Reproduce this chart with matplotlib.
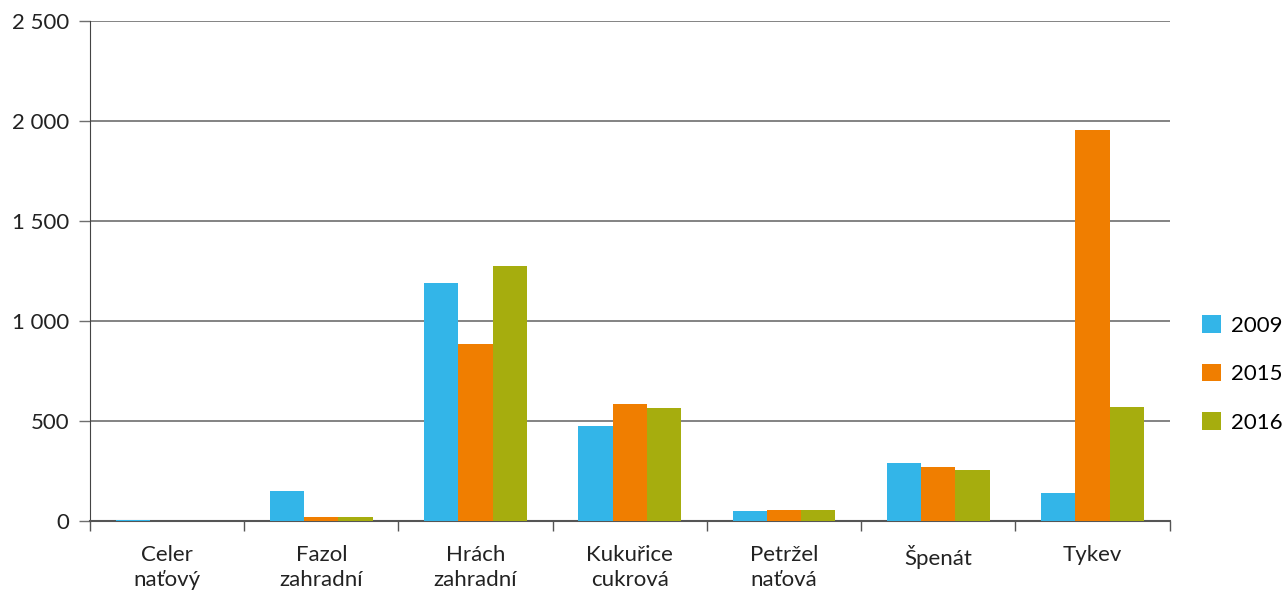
import numpy as np
import matplotlib.pyplot as plt
from matplotlib.ticker import FuncFormatter

# Data
categories = ["Celer\nnaťový", "Fazol\nzahradní", "Hrách\nzahradní", "Kukuřice\ncukrová",
              "Petržel\nnaťová", "Špenát", "Tykev"]
years = ["2009", "2015", "2016"]
v2009 = [5, 150, 1188, 473, 50, 292, 140]
v2015 = [0, 22, 887, 585, 55, 270, 1953]
v2016 = [0, 22, 1275, 567, 55, 254, 568]
colors = ["#33B5E8", "#F07E00", "#A6AD0E"]

plt.rcParams['font.family'] = ['Lato', 'DejaVu Sans']

fig = plt.figure(figsize=(12.84, 5.93), dpi=100)
ax = fig.add_axes([0.070, 0.1214, 0.841, 0.8432])

x = np.arange(len(categories))
w = 0.222
for i, (vals, lab) in enumerate(zip([v2009, v2015, v2016], years)):
    ax.bar(x + (i - 1) * w, vals, width=w, color=colors[i], label=lab,
           linewidth=0, zorder=3)

ax.set_xlim(-0.5, len(categories) - 0.5)
ax.set_ylim(0, 2500)
ax.set_yticks(np.arange(0, 2501, 500))
ax.yaxis.set_major_formatter(FuncFormatter(lambda v, p: f"{int(v):,}".replace(",", " ")))
ax.grid(axis='y', color='#6e6e6e', linewidth=1.2, zorder=0)
ax.set_axisbelow(True)

# category labels centered, ticks at category boundaries
ax.set_xticks(x)
ax.set_xticklabels(categories, fontsize=16, color='#222222', linespacing=1.35)
ax.tick_params(axis='x', which='major', length=0, pad=17)
ax.set_xticks(np.arange(-0.5, len(categories)), minor=True)
ax.tick_params(axis='x', which='minor', length=7, width=1, color='#555555', direction='out')
ax.tick_params(axis='y', length=8, width=1, color='#6e6e6e', labelsize=16,
               labelcolor='#222222', pad=7)

for s in ['top', 'right']:
    ax.spines[s].set_visible(False)
ax.spines['left'].set_color('#444444')
ax.spines['bottom'].set_color('#555555')
ax.spines['bottom'].set_linewidth(1.5)

ax.legend(loc='center left', bbox_to_anchor=(1.0296, 0.294), frameon=False, fontsize=16,
          borderaxespad=0, borderpad=0,
          handlelength=0.85, handleheight=0.85, labelspacing=1.25, handletextpad=0.45)

fig.savefig("out.png", dpi=100)
